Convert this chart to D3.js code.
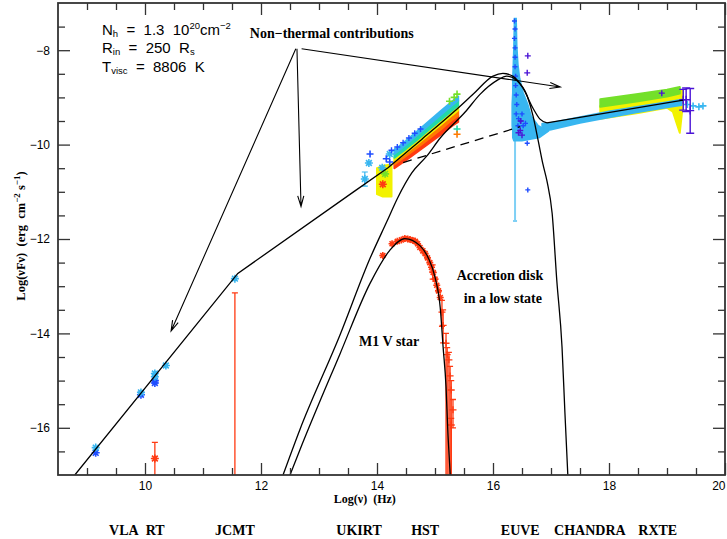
<!DOCTYPE html>
<html><head><meta charset="utf-8">
<script src="https://cdn.jsdelivr.net/npm/d3@7"></script>
<style>body{margin:0;background:#fff}svg{display:block}</style>
</head><body>
<svg id="c" width="727" height="539"></svg>
<script>
// ---------- axis ticks ----------
const xMajor = [10, 12, 14, 16, 18, 20];
const xMinor = [9, 9.5, 10.5, 11, 11.5, 12.5, 13, 13.5, 14.5, 15, 15.5, 16.5, 17, 17.5, 18.5, 19, 19.5];
const yMajor = [-16, -14, -12, -10, -8];
const yMinor = [-16.5, -15.5, -15, -14.5, -13.5, -13, -12.5, -11.5, -11, -10.5, -9.5, -9, -8.5, -7.5];

// ---------- model curves (log nu, log nuFnu) ----------
const totalLow = [[8.79, -17.0], [11.60, -12.73], [13.62, -10.98], [14.19, -10.49]];
const totalPeak = [[14.19, -10.49], [14.77, -9.89], [15.34, -9.29], [15.66, -8.93], [16.0, -8.55], [16.17, -8.49], [16.34, -8.55], [16.52, -8.81], [16.69, -9.23], [16.81, -9.46], [16.93, -9.54]];
const totalHigh = [[16.93, -9.54], [19.28, -9.06]];
const nonThermalDashed = [[14.45, -10.38], [16.47, -9.62]];
const diskModel = [[12.38, -17.0], [12.67, -16.04], [13.36, -14.04], [13.88, -12.41], [14.17, -11.63], [14.36, -11.12], [14.60, -10.60], [14.86, -10.24], [15.09, -9.86], [15.52, -9.31], [15.78, -8.93], [16.07, -8.64], [16.24, -8.55], [16.41, -8.64], [16.59, -8.97], [16.69, -9.39], [16.78, -9.92], [16.86, -10.41], [16.93, -10.77], [17.02, -11.46], [17.10, -12.88], [17.19, -14.29], [17.24, -15.68], [17.29, -17.0]];
const starModel = [[12.50, -17.0], [12.67, -16.47], [13.36, -14.44], [13.88, -12.94], [14.22, -12.24], [14.48, -11.99], [14.74, -12.14], [14.88, -12.39], [15.0, -12.81], [15.09, -13.45], [15.14, -14.29], [15.19, -15.13], [15.22, -16.04], [15.26, -16.95], [15.27, -17.2]];

// ---------- observations ----------
const radioCyan = [[9.15, -16.42], [9.93, -15.25], [10.17, -14.85], [10.17, -14.92], [10.36, -14.68], [11.55, -12.84]];
const radioBlue = [[9.15, -16.53], [9.93, -15.3], [10.17, -15.0], [10.17, -15.05]];
const radioRed = [[10.17, -16.65]];
const redBars = [[10.17, -17.3, -16.31], [11.55, -17.3, -13.14]];

const nirCyanStar = [[13.86, -10.39], [13.79, -10.73], [14.09, -10.49], [14.22, -10.2], [14.35, -10.13]];
const nirBluePlus = [[13.88, -10.2], [14.22, -10.37], [14.16, -10.3]];
const nirCyanBars = [[13.79, -10.88, -10.58]];
const nirYellowBand = [[14.0, -11.05, -10.5], [14.1, -11.1, -10.45], [14.25, -11.1, -10.42]];
const nirRedStar = [[14.1, -10.84]];
const nirGreenStar = [[14.14, -10.62]];

const optX = [14.3, 14.5, 14.7, 14.9, 15.1, 15.3, 15.4];
const optTop = [-10.12, -9.92, -9.71, -9.5, -9.29, -9.08, -8.98];
const optCyanLo = [-10.2, -10.0, -9.79, -9.58, -9.37, -9.16, -9.06];
const optGreenLo = [-10.28, -10.09, -9.89, -9.68, -9.48, -9.27, -9.17];
const optYellowLo = [-10.36, -10.17, -9.98, -9.78, -9.58, -9.37, -9.27];
const optOrangeLo = [-10.42, -10.24, -10.06, -9.87, -9.68, -9.47, -9.38];
const optRedLo = [-10.5, -10.33, -10.15, -9.97, -9.79, -9.6, -9.52];
const optBluePlus = [[14.25, -10.12], [14.35, -10.05], [14.45, -9.96], [14.55, -9.86], [14.65, -9.76], [14.75, -9.67]];
const optGreenPlus = [[15.25, -9.08], [15.33, -9.0], [15.38, -8.93]];
const optExtraGreen = [[15.38, -9.67]];
const optExtraOrange = [[15.38, -9.78]];

const euveSpike = [[-7.33, 16.37, 16.40], [-7.9, 16.36, 16.41], [-8.3, 16.35, 16.43], [-8.6, 16.34, 16.46], [-8.9, 16.34, 16.52], [-9.15, 16.33, 16.6], [-9.4, 16.33, 16.66], [-9.6, 16.33, 16.78], [-9.72, 16.34, 16.95], [-9.85, 16.34, 16.8], [-9.92, 16.36, 16.5]];
const euveBlue = [[16.37, -7.38], [16.38, -7.55], [16.37, -7.75], [16.38, -7.95], [16.38, -8.15], [16.38, -8.35], [16.39, -8.55], [16.39, -8.75], [16.4, -8.95], [16.41, -9.15], [16.4, -9.35], [16.44, -9.45], [16.43, -9.6], [16.47, -9.5], [16.5, -9.35], [16.52, -9.6], [16.56, -9.55], [16.59, -9.97], [16.6, -10.96]];
const euvePurple = [[16.6, -8.12], [16.59, -8.48], [16.48, -9.5], [16.47, -9.7], [16.5, -9.8], [16.44, -9.75]];
const euveCyanBar = [[16.38, -11.62, -9.6]];

const xrayCyan = [[16.85, -9.72, -9.56], [17.0, -9.68, -9.54], [17.5, -9.54, -9.42], [18.0, -9.42, -9.3], [18.5, -9.31, -9.2], [19.0, -9.21, -9.1], [19.25, -9.16, -9.05]];
const xrayGreen = [[17.85, -9.2, -9.04], [18.5, -9.08, -8.93], [19.0, -8.98, -8.84], [19.22, -8.92, -8.78]];
const xrayYellow = [[17.85, -9.45, -9.18], [18.5, -9.33, -9.06], [19.0, -9.22, -8.96], [19.1, -9.3, -8.93], [19.18, -9.6, -8.9], [19.22, -9.75, -8.85], [19.26, -9.3, -8.85]];
const xrayCyanPlus = [[19.35, -9.15], [19.45, -9.18], [19.55, -9.2], [19.62, -9.18]];
const xrayPurple = [[19.28, -9.05, -9.27, -8.83], [19.33, -9.05, -9.3, -8.8], [19.4, -9.28, -9.76, -8.81]];
const xrayBluePlus = [[18.91, -8.91]];

const starData = [[14.10, -12.35], [14.26, -12.1], [14.35, -12.05], [14.42, -12.02], [14.48, -11.99], [14.53, -12.0], [14.57, -12.01], [14.62, -12.03], [14.66, -12.05], [14.7, -12.1], [14.74, -12.18], [14.79, -12.25], [14.83, -12.31], [14.87, -12.4], [14.91, -12.5], [14.94, -12.6], [14.97, -12.71], [15.0, -12.85], [15.03, -12.98], [15.06, -13.1], [15.09, -13.24]];
const starBars = [[14.96, -12.7, -12.85, -12.55], [15.12, -13.55, -13.85, -13.3], [15.14, -13.83, -14.2, -13.5], [15.19, -14.21, -17.5, -14.0], [15.21, -14.45, -17.5, -14.3], [15.24, -14.56, -17.5, -14.4], [15.26, -14.9, -17.5, -14.7], [15.28, -15.2, -17.5, -15.0], [15.31, -15.62, -16.0, -15.4], [15.28, -15.94, -17.5, -15.8]];

// ---------- labels ----------
const instruments = [["VLA\u00a0\u00a0RT", 9.86], ["JCMT", 11.55], ["UKIRT", 13.69], ["HST", 14.83], ["EUVE", 16.47], ["CHANDRA", 17.67], ["RXTE", 18.84]];
const arrows = [[[12.6, -7.97], [10.45, -13.95]], [[12.62, -7.97], [12.69, -11.31]], [[12.7, -7.97], [17.16, -8.78]]];

const C = {cyan: "#38b6f0", blue: "#1f4dff", purple: "#4b14d6", green: "#74e02a", teal: "#22d8a8", yellow: "#f2f200", orange: "#ff7a00", red: "#ff3a12"};
const NB = "\u00a0";

const svg = d3.select("#c");
const x = d3.scaleLinear().domain([8.5, 20]).range([58, 725]);
const y = d3.scaleLinear().domain([-17, -7]).range([475, 3]);

svg.append("defs").append("clipPath").attr("id", "clip")
  .append("rect").attr("x", 58).attr("y", 3).attr("width", 667).attr("height", 472);
const g = svg.append("g").attr("clip-path", "url(#clip)");

function plus(data, color, r = 3.5, sw = 1.6) {
  g.append("g").selectAll("path").data(data).join("path")
    .attr("d", d => `M${x(d[0]) - r},${y(d[1])}H${x(d[0]) + r}M${x(d[0])},${y(d[1]) - r}V${y(d[1]) + r}`)
    .attr("stroke", color).attr("stroke-width", sw).attr("fill", "none");
}
function star(data, color, r = 4, sw = 1.6) {
  const k = r * 0.72;
  g.append("g").selectAll("path").data(data).join("path")
    .attr("d", d => { const X = x(d[0]), Y = y(d[1]);
      return `M${X - r},${Y}H${X + r}M${X},${Y - r}V${Y + r}M${X - k},${Y - k}L${X + k},${Y + k}M${X - k},${Y + k}L${X + k},${Y - k}`; })
    .attr("stroke", color).attr("stroke-width", sw).attr("fill", "none");
}
function bars(data, color, sw = 1.2, cap = 3) {
  g.append("g").selectAll("path").data(data).join("path")
    .attr("d", d => `M${x(d[0])},${y(d[1])}V${y(d[2])}M${x(d[0]) - cap},${y(d[2])}H${x(d[0]) + cap}M${x(d[0]) - cap},${y(d[1])}H${x(d[0]) + cap}`)
    .attr("stroke", color).attr("stroke-width", sw).attr("fill", "none");
}
function band(data, color) {
  g.append("path").datum(data)
    .attr("d", d3.area().x(d => x(d[0])).y0(d => y(d[1])).y1(d => y(d[2])))
    .attr("fill", color).attr("stroke", color).attr("stroke-width", 2).attr("stroke-linejoin", "round");
}
function zipBand(lo, hi) { return optX.map((v, i) => [v, lo[i], hi[i]]); }

// radio / mm
bars(redBars, C.red, 1.3, 3);
star(radioRed, C.red);
star(radioBlue, C.blue);
star(radioCyan, C.cyan);

// near IR
band(nirYellowBand, C.yellow);
bars(nirCyanBars, C.cyan);
star(nirCyanStar, C.cyan);
plus(nirBluePlus, C.blue);
star(nirRedStar, C.red);
star(nirGreenStar, C.green);

// optical
band(zipBand(optRedLo, optOrangeLo), C.red);
band(zipBand(optOrangeLo, optYellowLo), C.orange);
band(zipBand(optYellowLo, optGreenLo), C.yellow);
band(zipBand(optGreenLo, optCyanLo), C.teal);
band(zipBand(optCyanLo, optTop), C.cyan);
plus(optBluePlus, C.blue, 3, 1.4);
plus(optGreenPlus, C.green, 3.5, 1.6);
plus(optExtraGreen, C.teal, 3.5, 1.6);
plus(optExtraOrange, C.orange, 3.5, 1.6);

// EUVE
bars(euveCyanBar, "#7fd0f5", 2, 2);
g.append("path").datum(euveSpike)
  .attr("d", d3.area().y(d => y(d[0])).x0(d => x(d[1])).x1(d => x(d[2])))
  .attr("fill", C.cyan).attr("stroke", C.cyan).attr("stroke-width", 1.5);
plus(euveBlue, C.blue, 2.5, 1.4);
plus(euvePurple, C.purple, 3, 1.4);

// X-ray
band(xrayYellow, C.yellow);
band(xrayGreen, C.green);
band(xrayCyan, C.cyan);
plus(xrayCyanPlus, C.cyan, 3.5, 1.6);
plus(xrayBluePlus, C.purple, 3, 1.4);
bars(xrayPurple.map(d => [d[0], d[2], d[3]]), C.purple, 1.4, 4);
plus(xrayPurple, C.purple, 4, 1.4);

// star data
bars(starBars.map(d => [d[0], d[2], d[3]]), C.red, 1.3, 3);
star(starData, C.red, 3.5, 1.6);
plus(starBars, C.red, 3.5, 1.4);

// models
const line = d3.line().x(d => x(d[0])).y(d => y(d[1]));
const smooth = d3.line().x(d => x(d[0])).y(d => y(d[1])).curve(d3.curveMonotoneX);
function model(data, gen, dash) {
  const p = g.append("path").datum(data).attr("d", gen)
    .attr("fill", "none").attr("stroke", "#000").attr("stroke-width", 1.3);
  if (dash) p.attr("stroke-dasharray", dash);
}
model(diskModel, smooth);
model(starModel, smooth);
model(totalLow, line);
model(totalPeak, smooth);
model(totalHigh, line);
model(nonThermalDashed, line, "9,6");

// arrows
arrows.forEach(([a, b]) => {
  const x1 = x(a[0]), y1 = y(a[1]), x2 = x(b[0]), y2 = y(b[1]);
  const ang = Math.atan2(y2 - y1, x2 - x1), L = 11, s = 0.28;
  svg.append("path")
    .attr("d", `M${x1},${y1}L${x2},${y2}M${x2 - L * Math.cos(ang - s)},${y2 - L * Math.sin(ang - s)}L${x2},${y2}L${x2 - L * Math.cos(ang + s)},${y2 - L * Math.sin(ang + s)}`)
    .attr("stroke", "#000").attr("stroke-width", 1.1).attr("fill", "none");
});

// axes
function ax(gen, major, minor, tr, labels, pad) {
  const a = svg.append("g").attr("transform", tr)
    .call(gen.tickValues(major).tickSize(-12).tickPadding(pad || 0).tickFormat(labels ? (d => d3.format("d")(d).replace("-", "\u2212")) : ""));
  a.select(".domain").remove();
  a.selectAll("line").attr("stroke", "#333").attr("stroke-width", 1.3);
  a.selectAll("text").attr("font-family", "Liberation Sans, Arial, sans-serif").attr("font-size", 12).attr("fill", "#000");
  const b = svg.append("g").attr("transform", tr)
    .call(gen.tickValues(minor).tickSize(-7).tickFormat(""));
  b.select(".domain").remove();
  b.selectAll("line").attr("stroke", "#333").attr("stroke-width", 1.3);
  return a;
}
const xb = ax(d3.axisBottom(x), xMajor, xMinor, "translate(0,475)", true, 6);
xb.selectAll(".tick").filter(d => d === 20).select("text").attr("text-anchor", "end").attr("dx", 0);
ax(d3.axisTop(x), xMajor, xMinor, "translate(0,3)", false);
ax(d3.axisLeft(y), yMajor, yMinor, "translate(58,0)", true, 8);
ax(d3.axisRight(y), yMajor, yMinor, "translate(725,0)", false);

svg.append("rect").attr("x", 58).attr("y", 3).attr("width", 667).attr("height", 472)
  .attr("fill", "none").attr("stroke", "#333").attr("stroke-width", 1.8);

// texts
const serif = "Liberation Serif, Times New Roman, serif";
const sans = "Liberation Sans, Arial, sans-serif";
function txt(t, X, Y, size) {
  return svg.append("text").attr("x", x(X)).attr("y", y(Y))
    .attr("font-family", serif).attr("font-weight", "bold")
    .attr("font-size", size || 14).attr("text-anchor", "middle").text(t);
}
txt("Non\u2212thermal contributions", 13.22, -7.74);
txt("Accretion disk", 16.12, -12.87);
txt("in a low state", 16.17, -13.36);
txt("M1 V star", 14.21, -14.27);

// parameter block
const pb = svg.append("g").attr("font-family", sans).attr("font-size", 15);
const t1 = pb.append("text").attr("x", 102).attr("y", 35);
t1.append("tspan").text("N");
t1.append("tspan").attr("font-size", 9.5).attr("dy", 2).text("h");
t1.append("tspan").attr("dy", -2).text(`${NB}${NB}=${NB}${NB}1.3${NB}${NB}10`);
t1.append("tspan").attr("font-size", 9.5).attr("dy", -6).text("20");
t1.append("tspan").attr("dy", 6).text("cm");
t1.append("tspan").attr("font-size", 9.5).attr("dy", -6).text("\u22122");
const t2 = pb.append("text").attr("x", 102).attr("y", 53);
t2.append("tspan").text("R");
t2.append("tspan").attr("font-size", 9.5).attr("dy", 2).text("in");
t2.append("tspan").attr("dy", -2).text(`${NB}${NB}=${NB}${NB}250${NB}${NB}R`);
t2.append("tspan").attr("font-size", 9.5).attr("dy", 2).text("s");
const t3 = pb.append("text").attr("x", 102).attr("y", 72);
t3.append("tspan").text("T");
t3.append("tspan").attr("font-size", 9.5).attr("dy", 2).text("visc");
t3.append("tspan").attr("dy", -2).text(`${NB}${NB}=${NB}${NB}8806${NB}${NB}K`);

// axis titles
svg.append("text").attr("x", x(13.79)).attr("y", 503).attr("text-anchor", "middle")
  .attr("font-family", serif).attr("font-weight", "bold").attr("font-size", 12)
  .text(`Log(\u03bd)${NB}${NB}(Hz)`);

const yt = svg.append("text").attr("transform", "translate(25,236) rotate(-90)").attr("text-anchor", "middle")
  .attr("font-family", serif).attr("font-weight", "bold").attr("font-size", 12.5);
yt.append("tspan").text(`Log(\u03bdF\u03bd)${NB}${NB}(erg${NB}${NB}cm`);
yt.append("tspan").attr("font-size", 9).attr("dy", -5).text("\u22122");
yt.append("tspan").attr("dy", 5).text(`${NB}s`);
yt.append("tspan").attr("font-size", 9).attr("dy", -5).text("\u22121");
yt.append("tspan").attr("dy", 5).text(")");

// instruments
instruments.forEach(([t, X]) => {
  svg.append("text").attr("x", x(X)).attr("y", 535).attr("text-anchor", "middle")
    .attr("font-family", serif).attr("font-weight", "bold").attr("font-size", 14).text(t);
});
</script>
</body></html>
